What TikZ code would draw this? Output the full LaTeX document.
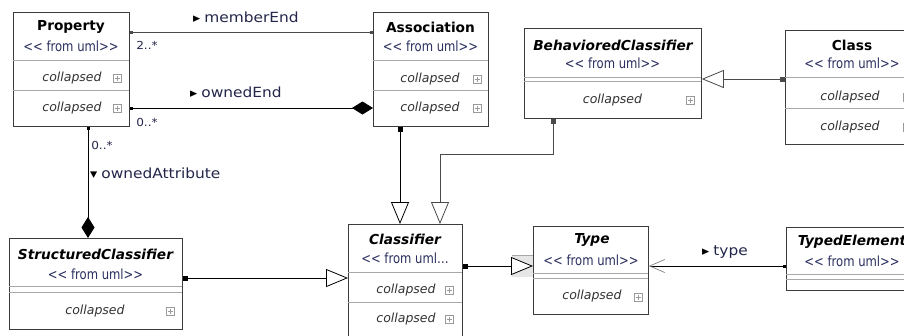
\documentclass[tikz,border=0pt]{standalone}
\usepackage{fontspec}
\setmainfont{DejaVu Sans}
\newfontfamily\stereofont[FakeStretch=0.83]{DejaVu Sans}
\newfontfamily\labelfont[FakeStretch=1.1]{DejaVu Sans}
\usetikzlibrary{arrows.meta}

\definecolor{edgec}{HTML}{3C3C3C}
\definecolor{linec}{HTML}{4A4A4A}
\definecolor{divc}{HTML}{A8A8A8}
\definecolor{navy}{HTML}{2A2F5E}
\definecolor{labc}{HTML}{23264A}
\definecolor{colc}{HTML}{333333}
\definecolor{plusc}{HTML}{9A9A9A}
\definecolor{hilite}{HTML}{E6E6E6}

\tikzset{
  umlSq/.tip={Square[length=5pt,width=5pt]},
  umlDot/.tip={Square[length=3pt,width=3pt]},
  umlGen/.tip={Triangle[length=22pt,width=18pt,fill=white,line width=0.8pt]},
  umlComp/.tip={Diamond[length=21pt,width=13pt,color=black]},
  umlOpen/.tip={Straight Barb[length=15pt,width=13pt,color=linec!70,line width=0.7pt]},
  umlbox/.style={draw=edgec, line width=0.8pt, fill=white, inner sep=0pt, anchor=north west},
  divider/.style={draw=divc, line width=0.8pt},
  title/.style={font=\fontsize{13.7}{16}\selectfont\bfseries, text=black, inner sep=0pt},
  ititle/.style={font=\fontsize{13.7}{16}\selectfont\bfseries\itshape, text=black, inner sep=0pt},
  stereo/.style={font=\stereofont\fontsize{14}{16}\selectfont, text=navy, inner sep=0pt},
  collapsed/.style={font=\fontsize{12.5}{15}\selectfont\itshape, text=colc, inner sep=0pt},
  plusbox/.style={draw=plusc, line width=0.5pt, fill=white, minimum size=8pt, inner sep=0pt,
    path picture={
      \draw[plusc, line width=0.6pt]
        ([xshift=-2.5pt]path picture bounding box.center) -- ([xshift=2.5pt]path picture bounding box.center)
        ([yshift=-2.5pt]path picture bounding box.center) -- ([yshift=2.5pt]path picture bounding box.center);}},
  conn/.style={draw=linec, line width=0.9pt},
  lbl/.style={font=\labelfont\fontsize{14}{16}\selectfont, text=labc, inner sep=0pt, anchor=west},
  mult/.style={font=\labelfont\fontsize{11}{12}\selectfont, text=labc, inner sep=0pt},
}

% direction marker in front of a role name
\newcommand{\dirmark}[1]{{\fontsize{13}{13}\selectfont\color{black}#1}\hspace{4pt}}

% class box: name, left, top, right, bottom
\newcommand{\classbox}[5]{%
  \node[umlbox, minimum width={(#4)-(#2)}, minimum height={(#5)-(#3)}] (#1) at (#2,#3) {};}

\begin{document}
\begin{tikzpicture}[x=1pt, y=-1pt]
\path[use as bounding box, fill=white] (0,0) rectangle (904,335);
\clip (0,0) rectangle (904,335);

% ---------- Property ----------
\classbox{property}{13}{12}{129}{126}
\draw[divider] (13,60) -- (129,60) (13,90) -- (129,90);
\node[title]  (propT) at (71,27) {Property};
\node[stereo] (propS) at (71,46) {<< from uml>>};
\node[collapsed] (propC1) at (72,78) {collapsed};
\node[plusbox]   (propP1) at (117,78) {};
\node[collapsed] (propC2) at (72,108) {collapsed};
\node[plusbox]   (propP2) at (117,108) {};

% ---------- Association ----------
\classbox{association}{373}{12}{488}{126}
\draw[divider] (373,60) -- (488,60) (373,90) -- (488,90);
\node[title]  (assT) at (430.5,27) {Association};
\node[stereo] (assS) at (430.5,46) {<< from uml>>};
\node[collapsed] (assC1) at (430,79) {collapsed};
\node[plusbox]   (assP1) at (477,79) {};
\node[collapsed] (assC2) at (430,108) {collapsed};
\node[plusbox]   (assP2) at (477,108) {};

% ---------- BehavioredClassifier ----------
\classbox{behaviored}{524}{28}{701}{118}
\draw[divider] (524,77) -- (701,77) (524,81) -- (701,81);
\node[ititle] (behT) at (613,45) {BehavioredClassifier};
\node[stereo] (behS) at (612.5,63) {<< from uml>>};
\node[collapsed] (behC) at (612.5,100) {collapsed};
\node[plusbox]   (behP) at (690,100) {};

% ---------- Class ----------
\classbox{class}{785}{30}{919}{144}
\draw[divider] (785,77) -- (919,77) (785,108) -- (919,108);
\node[title]  (clsT) at (852,45) {Class};
\node[stereo] (clsS) at (852,63) {<< from uml>>};
\node[collapsed] (clsC1) at (850,97) {collapsed};
\node[plusbox]   (clsP1) at (907,97) {};
\node[collapsed] (clsC2) at (850,127) {collapsed};
\node[plusbox]   (clsP2) at (907,127) {};

% ---------- StructuredClassifier ----------
\classbox{structured}{9}{238}{182}{329}
\draw[divider] (9,286) -- (182,286) (9,292) -- (182,292);
\node[ititle] (strT) at (95.5,254) {StructuredClassifier};
\node[stereo] (strS) at (95.5,274) {<< from uml>>};
\node[collapsed] (strC) at (95,311) {collapsed};
\node[plusbox]   (strP) at (170,311) {};

% ---------- Classifier ----------
\classbox{classifier}{348}{224}{462}{345}
\draw[divider] (348,272) -- (462,272) (348,302) -- (462,302);
\node[ititle] (cfrT) at (405,239) {Classifier};
\node[stereo] (cfrS) at (405,258) {<< from uml\dots};
\node[collapsed] (cfrC1) at (406,290) {collapsed};
\node[plusbox]   (cfrP1) at (449,290) {};
\node[collapsed] (cfrC2) at (406,319) {collapsed};
\node[plusbox]   (cfrP2) at (449,319) {};

% ---------- Type ----------
\classbox{type}{533}{226}{648}{314}
\draw[divider] (533,273) -- (648,273) (533,278) -- (648,278);
\node[ititle] (typT) at (592,240) {Type};
\node[stereo] (typS) at (591,260) {<< from uml>>};
\node[collapsed] (typC) at (592,296) {collapsed};
\node[plusbox]   (typP) at (638,297) {};

% ---------- TypedElement ----------
\classbox{typed}{786}{227}{918}{290}
\draw[divider] (786,274) -- (918,274) (786,279) -- (918,279);
\node[ititle] (tedT) at (852,242) {TypedElement};
\node[stereo] (tedS) at (852,261) {<< from uml>>};

% ---------- routing points ----------
\coordinate (yMember) at (0,32);
\coordinate (yOwned)  at (0,108);
\coordinate (xAttr)   at (88,0);
\coordinate (yStruct) at (0,278);
\coordinate (xAssoc)  at (400,0);
\coordinate (bendA)   at (553,154);
\coordinate (bendB)   at (440,154);
\coordinate (yClass)  at (0,79);
\coordinate (yType)   at (0,266);

% ---------- connectors ----------
\draw[conn, umlDot-umlDot] (property.east |- yMember) -- (association.west |- yMember);
\draw[conn, draw=black, umlDot-umlComp] (property.east |- yOwned) -- (association.west |- yOwned);
\draw[conn, draw=black, umlDot-umlComp] (property.south -| xAttr) -- (structured.north -| xAttr);
\draw[conn, draw=black, umlSq-umlGen] (structured.east |- yStruct) -- (classifier.west |- yStruct);
\draw[conn, draw=black, umlSq-umlGen] (association.south -| xAssoc) -- (classifier.north -| xAssoc);
\draw[conn, umlSq-umlGen] (behaviored.south -| bendA) -- (bendA) -- (bendB) -- (classifier.north -| bendB);
\draw[conn, umlSq-umlGen] (class.west |- yClass) -- (behaviored.east |- yClass);
\fill[hilite] (512,255) rectangle (533,277);
\draw[divc, line width=0.8pt] (512,255) -- (533,255);
\draw[conn, draw=black, umlSq-umlGen] (classifier.east |- yType) -- (type.west |- yType);
\draw[conn, draw=black, umlDot-umlOpen] (typed.west |- yType) -- (type.east |- yType);

% ---------- end labels ----------
\node[lbl] (lMember) at (193,17) {\dirmark{▸}memberEnd};
\node[mult] (mMember) at (147,45) {2..*};
\node[lbl] (lOwned) at (190,92) {\dirmark{▸}ownedEnd};
\node[mult] (mOwned) at (147,122) {0..*};
\node[mult] (mAttr) at (102,145) {0..*};
\node[lbl] (lAttr) at (90,173) {\dirmark{▾}ownedAttribute};
\node[lbl] (lType) at (702,252) {\dirmark{▸}type};
\end{tikzpicture}
\end{document}
